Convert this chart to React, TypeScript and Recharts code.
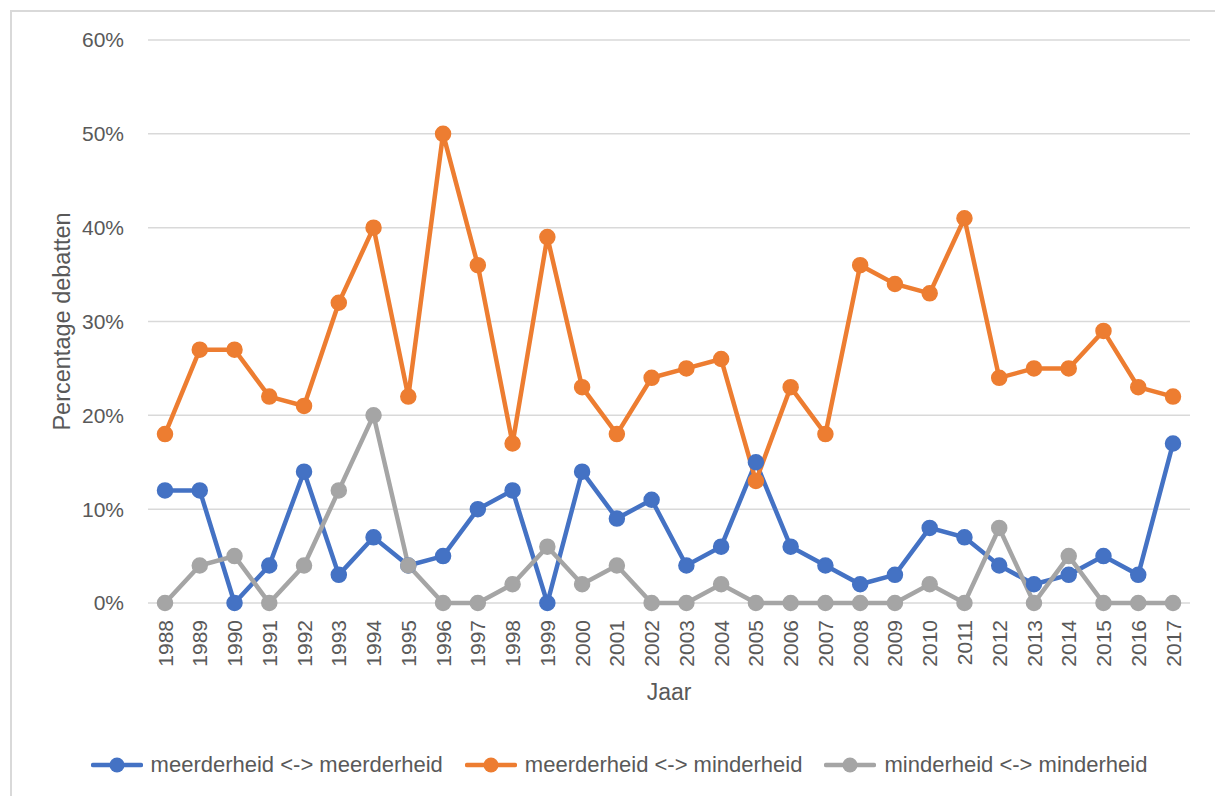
import React from 'react';
import { LineChart, Line, XAxis, YAxis, CartesianGrid, Legend } from 'recharts';

const years = ['1988','1989','1990','1991','1992','1993','1994','1995','1996','1997','1998','1999','2000','2001','2002','2003','2004','2005','2006','2007','2008','2009','2010','2011','2012','2013','2014','2015','2016','2017'];
const meerMeer = [12,12,0,4,14,3,7,4,5,10,12,0,14,9,11,4,6,15,6,4,2,3,8,7,4,2,3,5,3,17];
const meerMinder = [18,27,27,22,21,32,40,22,50,36,17,39,23,18,24,25,26,13,23,18,36,34,33,41,24,25,25,29,23,22];
const minderMinder = [0,4,5,0,4,12,20,4,0,0,2,6,2,4,0,0,2,0,0,0,0,0,2,0,8,0,5,0,0,0];
const yTicks = [0,10,20,30,40,50,60];

const seriesNames = ['meerderheid <-> meerderheid', 'meerderheid <-> minderheid', 'minderheid <-> minderheid'];
const colors = ['#4472C4', '#ED7D31', '#A5A5A5'];

const data = years.map((y, i) => ({
  year: y,
  a: meerMeer[i],
  b: meerMinder[i],
  c: minderMinder[i],
}));

const FONT = '"Liberation Sans", Arial, sans-serif';
const TEXT = '#595959';

const XTick = (props: any) => {
  const { x, y, payload } = props;
  return (
    <g transform={`translate(${x},${y})`}>
      <text transform="rotate(-90)" textAnchor="end" dy="0.36em" fill={TEXT} fontSize={21} fontFamily={FONT}>
        {payload.value}
      </text>
    </g>
  );
};

const LegendContent = (props: any) => {
  const { payload } = props;
  return (
    <div style={{ display: 'flex', justifyContent: 'center', alignItems: 'center', height: 53, paddingTop: 31, paddingLeft: 0, boxSizing: 'border-box', fontFamily: FONT, fontSize: 22, color: TEXT }}>
      {(payload || []).map((p: any, i: number) => (
        <div key={i} style={{ display: 'flex', alignItems: 'center', marginRight: i < 2 ? 22 : 0 }}>
          <svg width={52} height={20} style={{ marginRight: 8 }}>
            <line x1={2} y1={10} x2={50} y2={10} stroke={p.color} strokeWidth={4.5} strokeLinecap="round" />
            <circle cx={26} cy={10} r={7.5} fill={p.color} />
          </svg>
          <span style={{ whiteSpace: 'nowrap' }}>{p.value}</span>
        </div>
      ))}
    </div>
  );
};

export default function App() {
  return (
    <div style={{ position: 'absolute', left: 0, top: 0, width: 1215, height: 796, background: '#fff', overflow: 'hidden' }}>
      <div style={{ position: 'absolute', left: 10, top: 10, right: 0, bottom: 0, borderTop: '2px solid #d9d9d9', borderLeft: '2px solid #d9d9d9' }} />
      <div style={{ position: 'absolute', left: 0, top: 0 }}>
        <LineChart width={1215} height={796} data={data} margin={{ top: 40, right: 25, left: 48, bottom: 20 }}>
          <CartesianGrid vertical={false} stroke="#d9d9d9" strokeWidth={1.5} />
          <XAxis
            dataKey="year"
            axisLine={false}
            tickLine={false}
            tickSize={0}
            tickMargin={17}
            interval={0}
            padding={{ left: 17, right: 17 }}
            height={120}
            tick={<XTick />}
            label={{
              content: (p: any) => {
                const vb = p.viewBox || {};
                return (
                  <text x={vb.x + vb.width / 2} y={692} dy="0.36em" textAnchor="middle" fill={TEXT} fontSize={23} fontFamily={FONT}>
                    Jaar
                  </text>
                );
              },
            }}
          />
          <YAxis
            width={100}
            domain={[0, 60]}
            ticks={yTicks}
            axisLine={false}
            tickLine={false}
            tickSize={0}
            tickMargin={24}
            tickFormatter={(v: number) => `${v}%`}
            tick={{ fill: TEXT, fontSize: 21, fontFamily: FONT }}
            label={{
              content: (p: any) => {
                const vb = p.viewBox || {};
                const cx = 62;
                const cy = vb.y + vb.height / 2;
                return (
                  <text x={cx} y={cy} dy="0.36em" textAnchor="middle" transform={`rotate(-90, ${cx}, ${cy})`} fill={TEXT} fontSize={23.5} fontFamily={FONT}>
                    Percentage debatten
                  </text>
                );
              },
            }}
          />
          <Legend verticalAlign="bottom" height={53} content={<LegendContent />} />
          <Line type="linear" dataKey="a" name={seriesNames[0]} stroke={colors[0]} strokeWidth={4.5} dot={{ r: 7.5, fill: colors[0], stroke: colors[0], strokeWidth: 1.5 }} activeDot={false} isAnimationActive={false} />
          <Line type="linear" dataKey="b" name={seriesNames[1]} stroke={colors[1]} strokeWidth={4.5} dot={{ r: 7.5, fill: colors[1], stroke: colors[1], strokeWidth: 1.5 }} activeDot={false} isAnimationActive={false} />
          <Line type="linear" dataKey="c" name={seriesNames[2]} stroke={colors[2]} strokeWidth={4.5} dot={{ r: 7.5, fill: colors[2], stroke: colors[2], strokeWidth: 1.5 }} activeDot={false} isAnimationActive={false} />
        </LineChart>
      </div>
    </div>
  );
}
